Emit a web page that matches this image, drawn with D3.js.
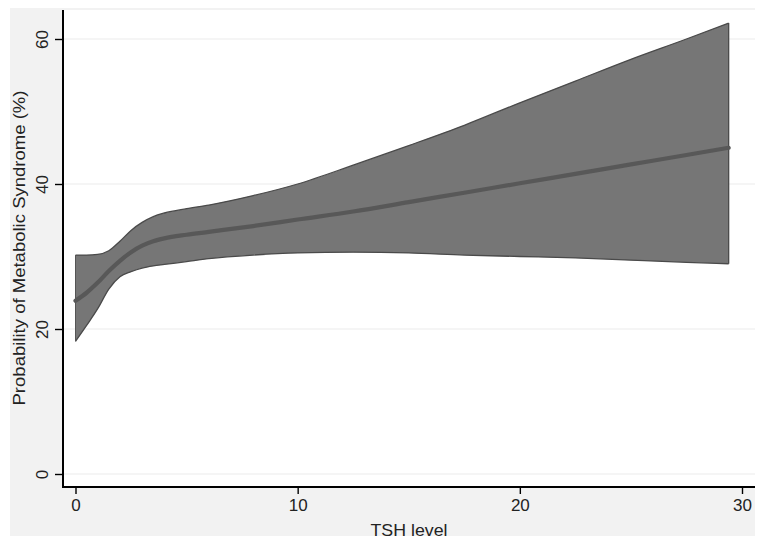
<!DOCTYPE html>
<html>
<head>
<meta charset="utf-8">
<script src="https://cdn.jsdelivr.net/npm/d3@7"></script>
<style>
  html, body { margin: 0; padding: 0; background: #ffffff; }
  text { font-family: "Liberation Sans", Arial, Helvetica, sans-serif; fill: #222; }
</style>
</head>
<body>
<svg id="chart" width="765" height="545"></svg>
<script>
// ---- data ----
const tsh   = [0, 0.5, 1, 1.5, 2, 2.5, 3, 3.5, 4, 5, 6, 8, 10, 12.5, 15, 17.5, 20, 22.5, 25, 27.5, 29.4];
const prob  = [23.9, 25.0, 26.4, 28.0, 29.4, 30.6, 31.5, 32.1, 32.5, 33.0, 33.4, 34.2, 35.1, 36.2, 37.5, 38.8, 40.1, 41.4, 42.7, 44.0, 45.0];
const upper = [30.2, 30.2, 30.3, 30.8, 32.1, 33.6, 34.7, 35.5, 36.0, 36.6, 37.1, 38.4, 40.0, 42.6, 45.3, 48.1, 51.2, 54.2, 57.2, 60.0, 62.2];
const lower = [18.3, 20.5, 22.8, 25.5, 27.2, 27.9, 28.4, 28.7, 28.9, 29.3, 29.7, 30.2, 30.5, 30.6, 30.5, 30.2, 30.0, 29.8, 29.5, 29.2, 29.0];
const xTicks = [0, 10, 20, 30];
const yTicks = [0, 20, 40, 60];
const xTitle = "TSH level";
const yTitle = "Probability of Metabolic Syndrome (%)";

const rows = tsh.map((t, i) => ({ x: t, y: prob[i], lo: lower[i], hi: upper[i] }));

const svg = d3.select("#chart");

// outer graph region (light grey)
svg.append("rect").attr("x", 10).attr("y", 8).attr("width", 745).attr("height", 528).attr("fill", "#f2f2f2");
// plot region (white)
const plot = { left: 63, right: 755, top: 10, bottom: 487 };
svg.append("rect").attr("x", plot.left).attr("y", plot.top)
   .attr("width", plot.right - plot.left).attr("height", plot.bottom - plot.top).attr("fill", "#ffffff");

const x = d3.scaleLinear().domain([0, 30]).range([75.5, 742]);
const y = d3.scaleLinear().domain([0, 60]).range([474, 39]);

// gridlines
svg.append("g").selectAll("line").data(yTicks).join("line")
  .attr("x1", plot.left + 1).attr("x2", plot.right)
  .attr("y1", d => y(d)).attr("y2", d => y(d))
  .attr("stroke", "#ececec").attr("stroke-width", 1.2);

// confidence band
const area = d3.area().x(d => x(d.x)).y0(d => y(d.lo)).y1(d => y(d.hi)).curve(d3.curveMonotoneX);
svg.append("path").datum(rows).attr("d", area)
  .attr("fill", "#767676").attr("stroke", "none");
// band outline
const upLine = d3.line().x(d => x(d.x)).y(d => y(d.hi)).curve(d3.curveMonotoneX);
const loLine = d3.line().x(d => x(d.x)).y(d => y(d.lo)).curve(d3.curveMonotoneX);
svg.append("path").datum(rows).attr("d", upLine).attr("fill", "none").attr("stroke", "#4a4a4a").attr("stroke-width", 1.3);
svg.append("path").datum(rows).attr("d", loLine).attr("fill", "none").attr("stroke", "#4a4a4a").attr("stroke-width", 1.3);
const first = rows[0], last = rows[rows.length - 1];
svg.append("line").attr("x1", x(first.x)).attr("x2", x(first.x)).attr("y1", y(first.lo)).attr("y2", y(first.hi))
  .attr("stroke", "#555").attr("stroke-width", 1);
svg.append("line").attr("x1", x(last.x)).attr("x2", x(last.x)).attr("y1", y(last.lo)).attr("y2", y(last.hi))
  .attr("stroke", "#4a4a4a").attr("stroke-width", 1.3);

// mean line
const meanLine = d3.line().x(d => x(d.x)).y(d => y(d.y)).curve(d3.curveMonotoneX);
svg.append("path").datum(rows).attr("d", meanLine)
  .attr("fill", "none").attr("stroke", "#585858").attr("stroke-width", 4.2).attr("stroke-linecap", "round");

// axes
const yAxis = d3.axisLeft(y).tickValues(yTicks).tickSize(8).tickPadding(0).tickFormat(d3.format("d"));
const gy = svg.append("g").attr("transform", `translate(${plot.left},0)`).call(yAxis);
gy.select(".domain").remove();
gy.selectAll(".tick line").attr("stroke", "#000").attr("stroke-width", 1.4);
gy.selectAll(".tick text").remove();
gy.selectAll(".tick").append("text")
  .attr("transform", "translate(-21,0) rotate(-90)")
  .attr("text-anchor", "middle").attr("dy", "0.35em")
  .style("font-size", "17px").attr("fill", "#222")
  .text(d => d);

const xAxis = d3.axisBottom(x).tickValues(xTicks).tickSize(7).tickPadding(5).tickFormat(d3.format("d"));
const gx = svg.append("g").attr("transform", `translate(0,${plot.bottom})`).call(xAxis);
gx.select(".domain").remove();
gx.selectAll(".tick line").attr("stroke", "#000").attr("stroke-width", 1.4);
gx.selectAll(".tick text").style("font-size", "17px").attr("fill", "#222").attr("font-family", "Liberation Sans, Arial, sans-serif");

// axis lines
svg.append("line").attr("x1", plot.left).attr("x2", plot.left).attr("y1", plot.top).attr("y2", plot.bottom + 1)
  .attr("stroke", "#000").attr("stroke-width", 2);
svg.append("line").attr("x1", plot.left - 1).attr("x2", plot.right).attr("y1", plot.bottom).attr("y2", plot.bottom)
  .attr("stroke", "#000").attr("stroke-width", 2);

// titles
svg.append("text").attr("x", (plot.left + plot.right) / 2).attr("y", 536)
  .attr("text-anchor", "middle").style("font-size", "17px")
  .attr("textLength", 77).attr("lengthAdjust", "spacingAndGlyphs").text(xTitle);
svg.append("text").attr("transform", `translate(25,${248}) rotate(-90)`)
  .attr("text-anchor", "middle").style("font-size", "17px")
  .attr("textLength", 315).attr("lengthAdjust", "spacingAndGlyphs").text(yTitle);
</script>
</body>
</html>
